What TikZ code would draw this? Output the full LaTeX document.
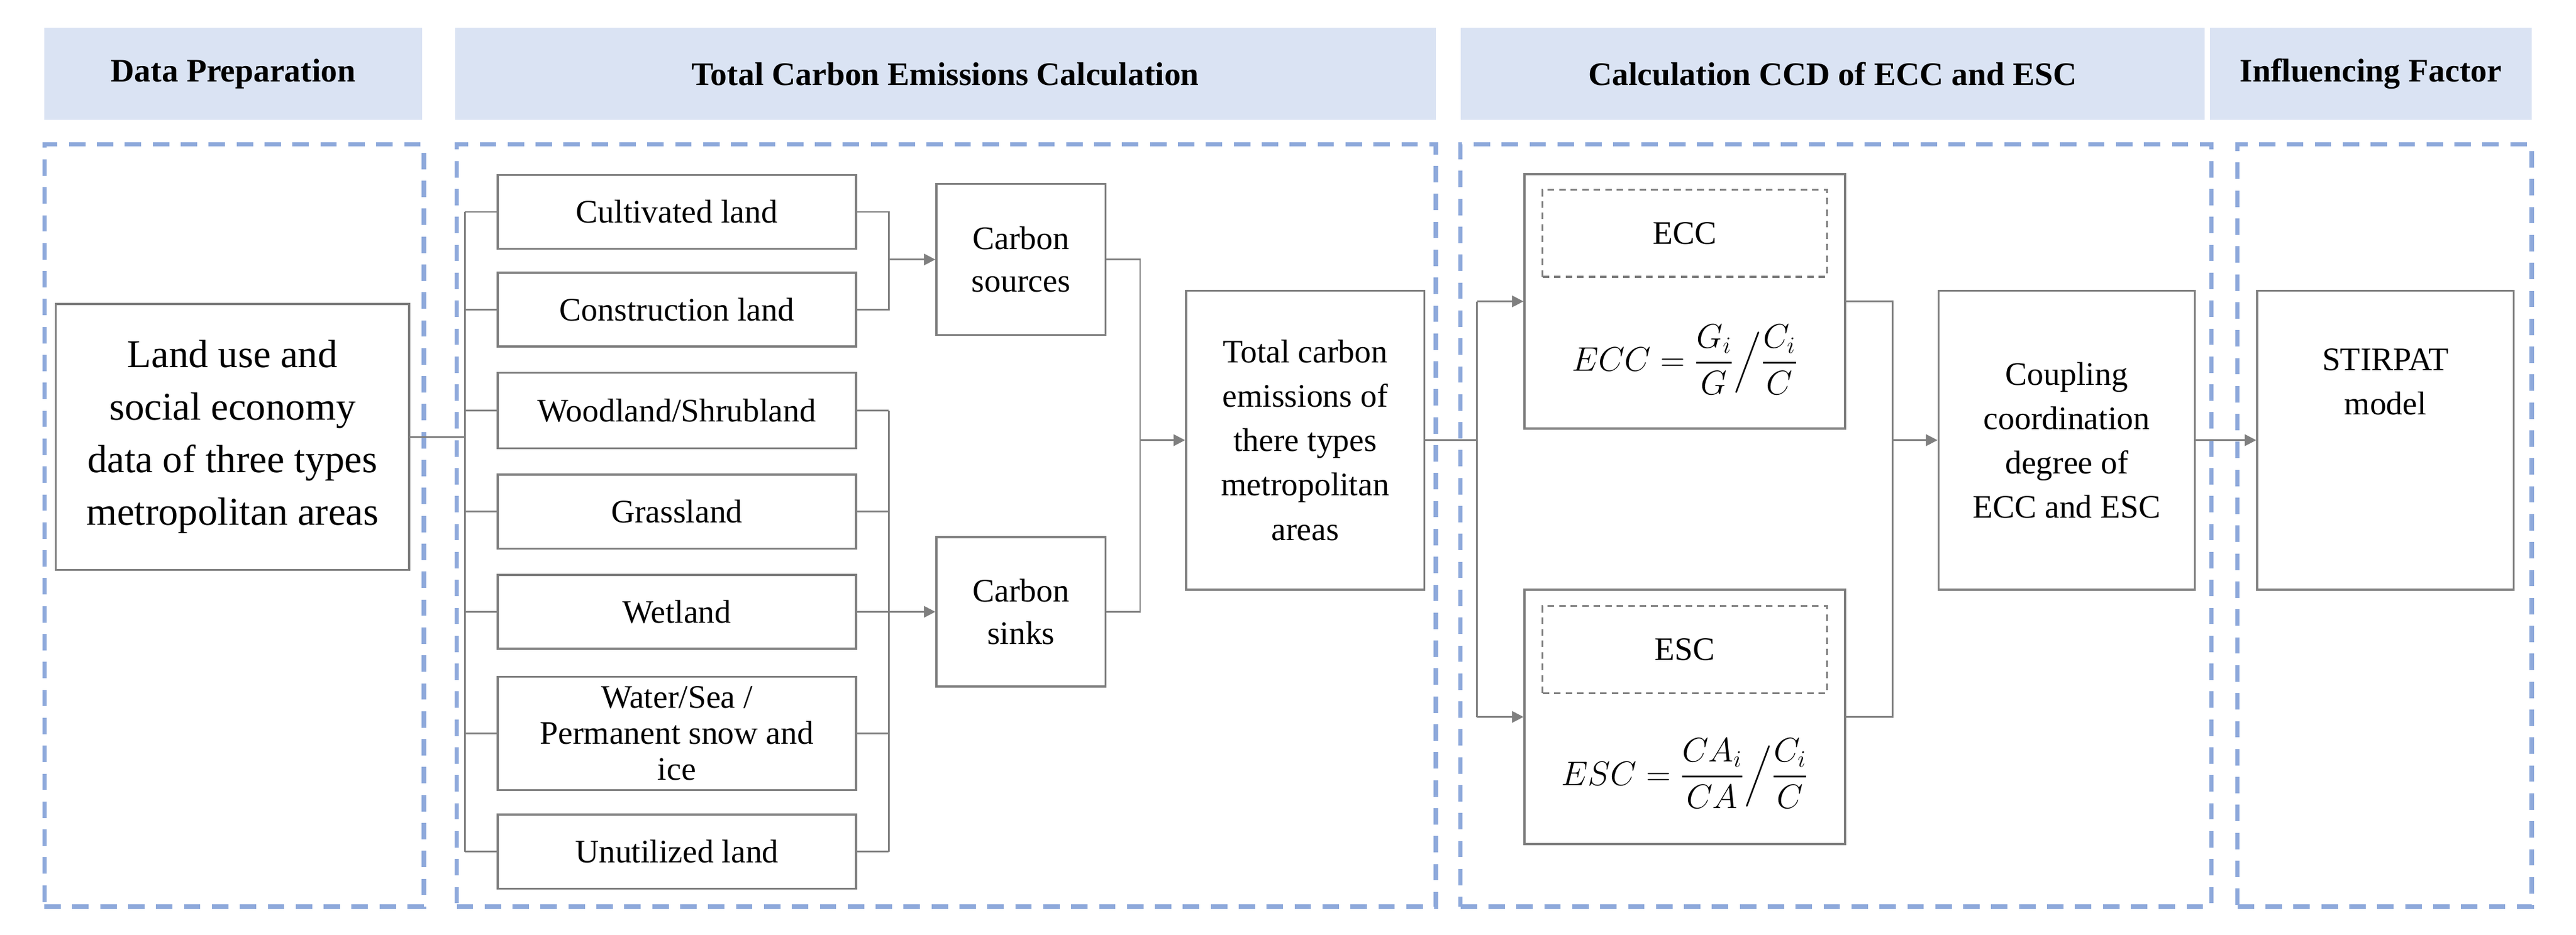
\documentclass[tikz,border=0pt]{standalone}
\usepackage{amsmath}
\usepackage{fontspec}
\setmainfont{Liberation Serif}
\usetikzlibrary{arrows.meta}
\definecolor{hdr}{HTML}{DAE3F3}
\definecolor{dashb}{HTML}{8EA9DB}
\definecolor{bx}{HTML}{7F7F7F}
\begin{document}
\begin{tikzpicture}[x=1pt,y=-1pt,
  hd/.style={draw=none,fill=hdr,font=\fontsize{20}{24}\selectfont\bfseries,inner sep=0pt},
  cont/.style={draw=dashb,line width=2.6pt,dash pattern=on 10pt off 7pt,inner sep=0pt},
  box/.style={draw=bx,line width=1.3pt,font=\fontsize{20}{26}\selectfont,align=center,inner sep=0pt},
  conn/.style={draw=bx,line width=1pt},
  arr/.style={conn,-{Triangle[length=7pt,width=7pt]}}]
\useasboundingbox (0,0) rectangle (1568,569);
% headers
\node[hd,minimum width=230pt,minimum height=56pt] (h1) at (142,45) {Data Preparation};
\node[hd,minimum width=597pt,minimum height=56pt] (h2) at (575.5,45) {Total Carbon Emissions Calculation};
\node[hd,minimum width=453pt,minimum height=56pt] (h3) at (1115.5,45) {Calculation CCD of ECC and ESC};
\node[hd,minimum width=196pt,minimum height=56pt] (h4) at (1443,45) {Influencing Factor};
% containers
\node[cont,minimum width=231pt,minimum height=464pt] (c1) at (142.5,320) {};
\node[cont,minimum width=596pt,minimum height=464pt] (c2) at (576,320) {};
\node[cont,minimum width=457pt,minimum height=464pt] (c3) at (1117.5,320) {};
\node[cont,minimum width=179pt,minimum height=464pt] (c4) at (1451.5,320) {};
% land use
\node[box,minimum width=215pt,minimum height=162pt,font=\fontsize{24}{32}\selectfont] (land) at (141.5,266) {Land use and\\social economy\\data of three types\\metropolitan areas};
% land classes
\node[box,minimum width=218pt,minimum height=45pt] (l1) at (412,129) {Cultivated land};
\node[box,minimum width=218pt,minimum height=45pt] (l2) at (412,188.5) {Construction land};
\node[box,minimum width=218pt,minimum height=46pt] (l3) at (412,250) {Woodland/Shrubland};
\node[box,minimum width=218pt,minimum height=45pt] (l4) at (412,311.5) {Grassland};
\node[box,minimum width=218pt,minimum height=45pt] (l5) at (412,372.5) {Wetland};
\node[box,minimum width=218pt,minimum height=69pt,font=\fontsize{20}{22}\selectfont] (l6) at (412,446.5) {Water/Sea /\\Permanent snow and\\ice};
\node[box,minimum width=218pt,minimum height=45pt] (l7) at (412,518.5) {Unutilized land};
\node[box,minimum width=103pt,minimum height=92pt] (src) at (621.5,158) {Carbon\\sources};
\node[box,minimum width=103pt,minimum height=91pt] (snk) at (621.5,372.5) {Carbon\\sinks};
\node[box,minimum width=145pt,minimum height=182pt,font=\fontsize{20}{27}\selectfont] (tot) at (794.5,268) {Total carbon\\emissions of\\there types\\metropolitan\\areas};
% ECC ESC
\node[box,minimum width=195pt,minimum height=155pt] (ecc) at (1025.5,183.5) {};
\node[draw=bx,line width=1.2pt,dash pattern=on 4pt off 3pt,minimum width=173pt,minimum height=53pt,font=\fontsize{20}{24}\selectfont] (eccl) at (1025.5,142) {ECC};
\node[font=\fontsize{20}{24}\selectfont] (eccf) at (1025.5,219) {$ECC=\dfrac{G_i}{G}\Big/\dfrac{C_i}{C}$};
\node[box,minimum width=195pt,minimum height=155pt] (esc) at (1025.5,436.5) {};
\node[draw=bx,line width=1.2pt,dash pattern=on 4pt off 3pt,minimum width=173pt,minimum height=53pt,font=\fontsize{20}{24}\selectfont] (escl) at (1025.5,395.5) {ESC};
\node[font=\fontsize{20}{24}\selectfont] (escf) at (1025.5,471) {$ESC=\dfrac{CA_i}{CA}\Big/\dfrac{C_i}{C}$};
\node[box,minimum width=156pt,minimum height=182pt,font=\fontsize{20}{27}\selectfont] (cpl) at (1258,268) {Coupling\\coordination\\degree of\\ECC and ESC};
\node[box,minimum width=156pt,minimum height=182pt,font=\fontsize{20}{27}\selectfont] (stp) at (1452,268) {STIRPAT\\model\\[2.2em]};
% bus coordinates
\coordinate (bL) at (283,0);
\coordinate (bR) at (541,0);
\coordinate (b3) at (694,0);
\coordinate (b4) at (899,0);
\coordinate (b5) at (1152,0);
% connectors
\draw[conn] (land.east) -- (land.east -| bL);
\draw[conn] (bL |- l1.west) -- (bL |- l7.west);
\foreach \n in {l1,l2,l3,l4,l5,l6,l7} {\draw[conn] (bL |- \n.west) -- (\n.west);}
\draw[conn] (l1.east) -- (l1.east -| bR) -- (l2.east -| bR) -- (l2.east);
\draw[arr] (bR |- src.west) -- (src.west);
\draw[conn] (bR |- l3.east) -- (bR |- l7.east);
\foreach \n in {l3,l4,l5,l6,l7} {\draw[conn] (\n.east) -- (bR |- \n.east);}
\draw[arr] (bR |- snk.west) -- (snk.west);
\draw[conn] (src.east) -- (src.east -| b3) -- (snk.east -| b3) -- (snk.east);
\draw[arr] (b3 |- tot.west) -- (tot.west);
\draw[conn] (tot.east) -- (tot.east -| b4);
\draw[conn] (b4 |- ecc.west) -- (b4 |- esc.west);
\draw[arr] (b4 |- ecc.west) -- (ecc.west);
\draw[arr] (b4 |- esc.west) -- (esc.west);
\draw[conn] (ecc.east) -- (ecc.east -| b5) -- (esc.east -| b5) -- (esc.east);
\draw[arr] (b5 |- cpl.west) -- (cpl.west);
\draw[arr] (cpl.east) -- (stp.west);
\end{tikzpicture}
\end{document}
